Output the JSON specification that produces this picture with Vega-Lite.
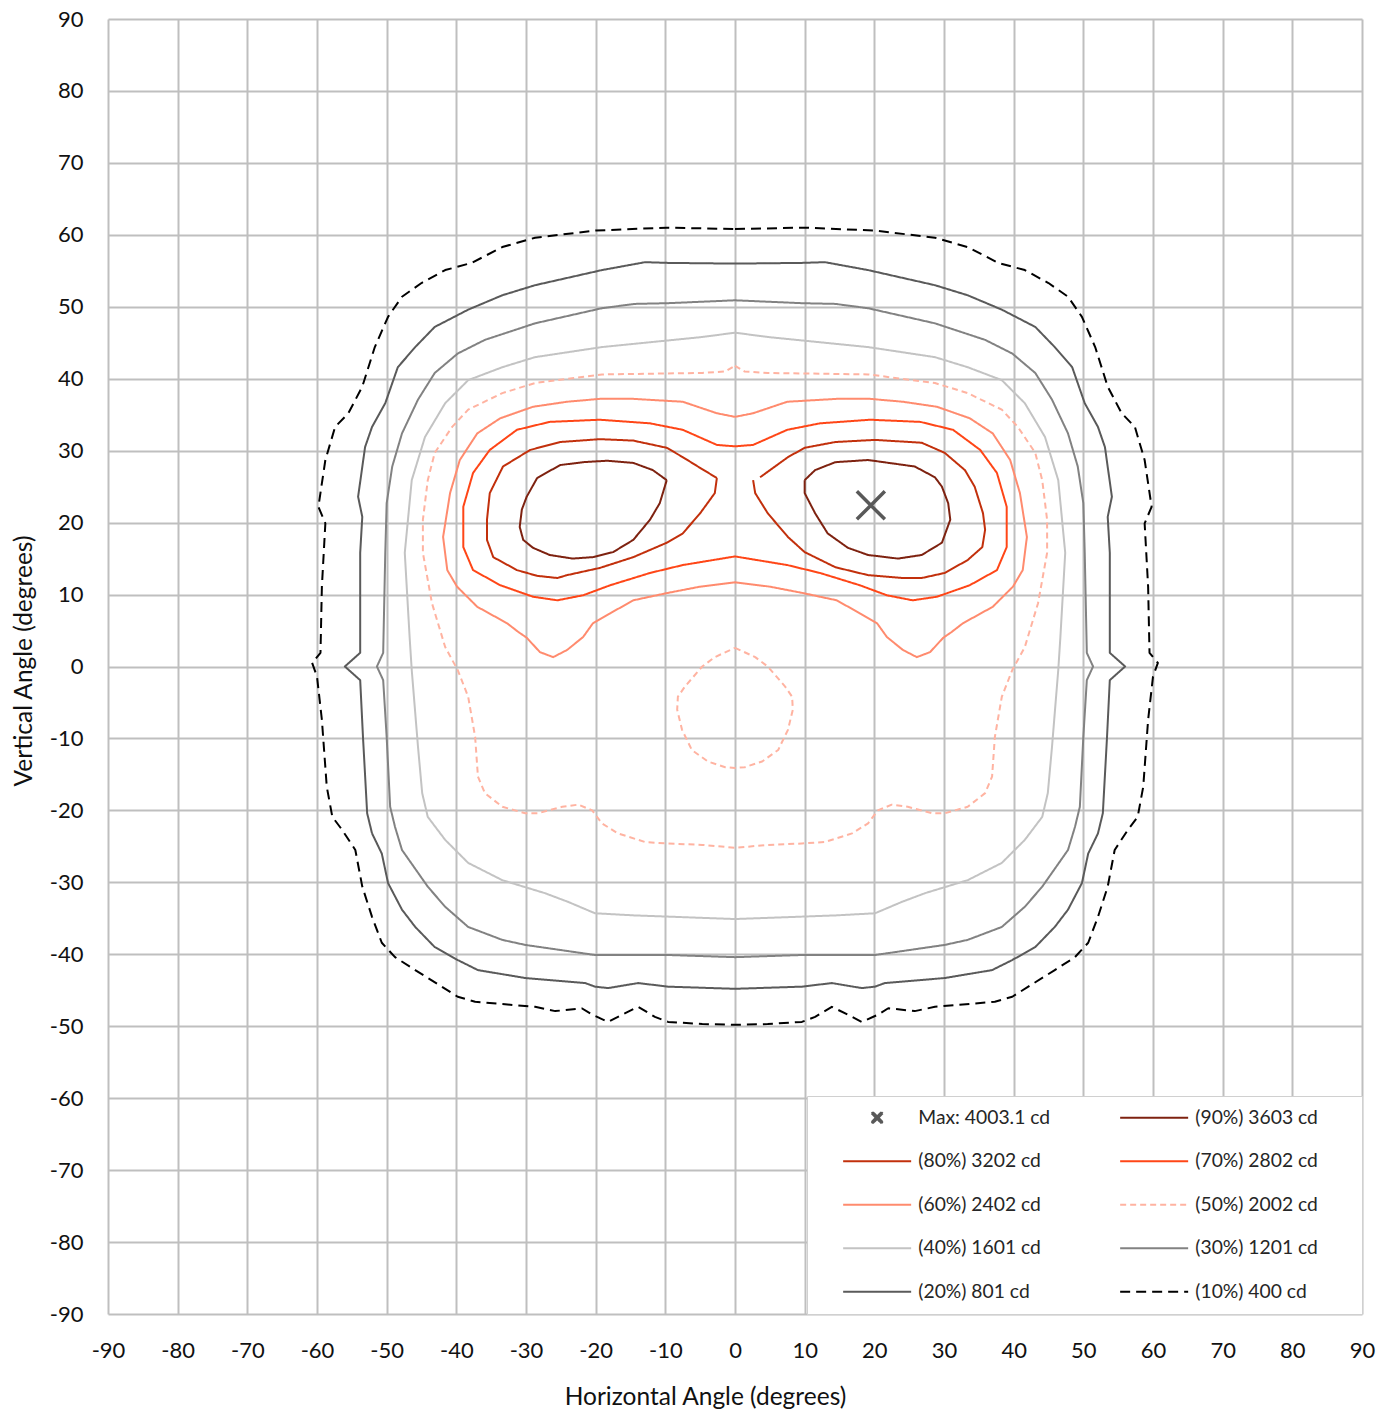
{
"$schema":"https://vega.github.io/schema/vega-lite/v6.json",
"width":1254,"height":1295,"autosize":"none",
"padding":{"left":108,"top":19,"right":32,"bottom":98},
"background":"white",
"config":{"view":{"stroke":null},"font":"Lato",
 "legend":{"orient":"bottom-right","offset":0,"direction":"horizontal","columns":2,"symbolSize":289,"symbolStrokeWidth":2,"symbolOpacity":1,"rowPadding":23.5,"columnPadding":45,"padding":12,"fillColor":"white","strokeColor":"#d0d0d0","labelFont":"Lato","labelFontSize":19.3,"labelColor":"#262626","symbolOffset":48.5,"labelOffset":31.5,"gridAlign":"all","labelLimit":300,"titleOrient":"right","titlePadding":32,"titleFontSize":10}},
"datasets":{
"m":[{"s":"M","x":19.5,"y":22.4}],
"c":[
{"s":"10","g":"10","x":0,"y":60.8},{"s":"10","g":"10","x":9.8,"y":61.0},{"s":"10","g":"10","x":20,"y":60.6},{"s":"10","g":"10","x":28.7,"y":59.6},{"s":"10","g":"10","x":33.4,"y":58.3},{"s":"10","g":"10","x":37.8,"y":56.1},{"s":"10","g":"10","x":41.6,"y":55.1},{"s":"10","g":"10","x":45,"y":53.3},{"s":"10","g":"10","x":47.8,"y":51.4},{"s":"10","g":"10","x":49.8,"y":48.6},{"s":"10","g":"10","x":51.7,"y":44.4},{"s":"10","g":"10","x":53.5,"y":38.9},{"s":"10","g":"10","x":55.5,"y":35.2},{"s":"10","g":"10","x":57.4,"y":33.3},{"s":"10","g":"10","x":58.8,"y":28.7},{"s":"10","g":"10","x":59.8,"y":22.2},{"s":"10","g":"10","x":58.8,"y":19.9},{"s":"10","g":"10","x":59.3,"y":11.1},{"s":"10","g":"10","x":59.5,"y":1.9},{"s":"10","g":"10","x":60.7,"y":0.5},{"s":"10","g":"10","x":60.0,"y":-1.4},{"s":"10","g":"10","x":59.3,"y":-7.4},{"s":"10","g":"10","x":58.6,"y":-16.7},{"s":"10","g":"10","x":57.8,"y":-20.9},{"s":"10","g":"10","x":56.4,"y":-22.7},{"s":"10","g":"10","x":54.5,"y":-25.5},{"s":"10","g":"10","x":53.5,"y":-30.6},{"s":"10","g":"10","x":52.1,"y":-34.8},{"s":"10","g":"10","x":50.7,"y":-38.4},{"s":"10","g":"10","x":48.8,"y":-40.4},{"s":"10","g":"10","x":45.9,"y":-42.2},{"s":"10","g":"10","x":42.1,"y":-44.5},{"s":"10","g":"10","x":39.8,"y":-45.9},{"s":"10","g":"10","x":37.3,"y":-46.6},{"s":"10","g":"10","x":28.7,"y":-47.3},{"s":"10","g":"10","x":25.8,"y":-47.9},{"s":"10","g":"10","x":22.0,"y":-47.5},{"s":"10","g":"10","x":20.5,"y":-48.4},{"s":"10","g":"10","x":18.2,"y":-49.4},{"s":"10","g":"10","x":16.2,"y":-48.4},{"s":"10","g":"10","x":13.9,"y":-47.3},{"s":"10","g":"10","x":11.5,"y":-48.7},{"s":"10","g":"10","x":9.6,"y":-49.4},{"s":"10","g":"10","x":4.7,"y":-49.7},{"s":"10","g":"10","x":0,"y":-49.8},
{"s":"10","g":"10","x":-4.7,"y":-49.7},{"s":"10","g":"10","x":-9.6,"y":-49.4},{"s":"10","g":"10","x":-11.5,"y":-48.7},{"s":"10","g":"10","x":-13.9,"y":-47.3},{"s":"10","g":"10","x":-16.2,"y":-48.4},{"s":"10","g":"10","x":-18.2,"y":-49.4},{"s":"10","g":"10","x":-20.5,"y":-48.4},{"s":"10","g":"10","x":-22.0,"y":-47.5},{"s":"10","g":"10","x":-25.8,"y":-47.9},{"s":"10","g":"10","x":-28.7,"y":-47.3},{"s":"10","g":"10","x":-37.3,"y":-46.6},{"s":"10","g":"10","x":-39.8,"y":-45.9},{"s":"10","g":"10","x":-42.1,"y":-44.5},{"s":"10","g":"10","x":-45.9,"y":-42.2},{"s":"10","g":"10","x":-48.8,"y":-40.4},{"s":"10","g":"10","x":-50.7,"y":-38.4},{"s":"10","g":"10","x":-52.1,"y":-34.8},{"s":"10","g":"10","x":-53.5,"y":-30.6},{"s":"10","g":"10","x":-54.5,"y":-25.5},{"s":"10","g":"10","x":-56.4,"y":-22.7},{"s":"10","g":"10","x":-57.8,"y":-20.9},{"s":"10","g":"10","x":-58.6,"y":-16.7},{"s":"10","g":"10","x":-59.3,"y":-7.4},{"s":"10","g":"10","x":-60.0,"y":-1.4},{"s":"10","g":"10","x":-60.7,"y":0.5},{"s":"10","g":"10","x":-59.5,"y":1.9},{"s":"10","g":"10","x":-59.3,"y":11.1},{"s":"10","g":"10","x":-58.8,"y":19.9},{"s":"10","g":"10","x":-59.8,"y":22.2},{"s":"10","g":"10","x":-58.8,"y":28.7},{"s":"10","g":"10","x":-57.4,"y":33.3},{"s":"10","g":"10","x":-55.5,"y":35.2},{"s":"10","g":"10","x":-53.5,"y":38.9},{"s":"10","g":"10","x":-51.7,"y":44.4},{"s":"10","g":"10","x":-49.8,"y":48.6},{"s":"10","g":"10","x":-47.8,"y":51.4},{"s":"10","g":"10","x":-45,"y":53.3},{"s":"10","g":"10","x":-41.6,"y":55.1},{"s":"10","g":"10","x":-37.8,"y":56.1},{"s":"10","g":"10","x":-33.4,"y":58.3},{"s":"10","g":"10","x":-28.7,"y":59.6},{"s":"10","g":"10","x":-20,"y":60.6},{"s":"10","g":"10","x":-9.8,"y":61.0},{"s":"10","g":"10","x":0,"y":60.8},

{"s":"20","g":"20","x":0,"y":56.0},{"s":"20","g":"20","x":9.6,"y":56.1},{"s":"20","g":"20","x":12.9,"y":56.2},{"s":"20","g":"20","x":19.1,"y":55.1},{"s":"20","g":"20","x":28.7,"y":53.0},{"s":"20","g":"20","x":33.4,"y":51.6},{"s":"20","g":"20","x":38.3,"y":49.6},{"s":"20","g":"20","x":43.1,"y":47.2},{"s":"20","g":"20","x":45.9,"y":44.4},{"s":"20","g":"20","x":48.4,"y":41.6},{"s":"20","g":"20","x":50.2,"y":36.6},{"s":"20","g":"20","x":52.1,"y":33.3},{"s":"20","g":"20","x":53.1,"y":30.5},{"s":"20","g":"20","x":54.1,"y":23.6},{"s":"20","g":"20","x":53.5,"y":20.8},{"s":"20","g":"20","x":53.8,"y":15.8},{"s":"20","g":"20","x":53.8,"y":1.9},{"s":"20","g":"20","x":56.0,"y":0},{"s":"20","g":"20","x":53.8,"y":-1.9},{"s":"20","g":"20","x":53.4,"y":-9.8},{"s":"20","g":"20","x":52.8,"y":-20.4},{"s":"20","g":"20","x":52.1,"y":-23.2},{"s":"20","g":"20","x":50.7,"y":-26.0},{"s":"20","g":"20","x":49.8,"y":-30.1},{"s":"20","g":"20","x":47.8,"y":-33.8},{"s":"20","g":"20","x":45.9,"y":-36.2},{"s":"20","g":"20","x":43.1,"y":-39.0},{"s":"20","g":"20","x":39.8,"y":-40.8},{"s":"20","g":"20","x":36.9,"y":-42.2},{"s":"20","g":"20","x":30.1,"y":-43.3},{"s":"20","g":"20","x":21.5,"y":-44.0},{"s":"20","g":"20","x":20.1,"y":-44.5},{"s":"20","g":"20","x":18.2,"y":-44.7},{"s":"20","g":"20","x":13.9,"y":-44.0},{"s":"20","g":"20","x":9.6,"y":-44.5},{"s":"20","g":"20","x":0,"y":-44.8},
{"s":"20","g":"20","x":-9.6,"y":-44.5},{"s":"20","g":"20","x":-13.9,"y":-44.0},{"s":"20","g":"20","x":-18.2,"y":-44.7},{"s":"20","g":"20","x":-20.1,"y":-44.5},{"s":"20","g":"20","x":-21.5,"y":-44.0},{"s":"20","g":"20","x":-30.1,"y":-43.3},{"s":"20","g":"20","x":-36.9,"y":-42.2},{"s":"20","g":"20","x":-39.8,"y":-40.8},{"s":"20","g":"20","x":-43.1,"y":-39.0},{"s":"20","g":"20","x":-45.9,"y":-36.2},{"s":"20","g":"20","x":-47.8,"y":-33.8},{"s":"20","g":"20","x":-49.8,"y":-30.1},{"s":"20","g":"20","x":-50.7,"y":-26.0},{"s":"20","g":"20","x":-52.1,"y":-23.2},{"s":"20","g":"20","x":-52.8,"y":-20.4},{"s":"20","g":"20","x":-53.4,"y":-9.8},{"s":"20","g":"20","x":-53.8,"y":-1.9},{"s":"20","g":"20","x":-56.0,"y":0},{"s":"20","g":"20","x":-53.8,"y":1.9},{"s":"20","g":"20","x":-53.8,"y":15.8},{"s":"20","g":"20","x":-53.5,"y":20.8},{"s":"20","g":"20","x":-54.1,"y":23.6},{"s":"20","g":"20","x":-53.1,"y":30.5},{"s":"20","g":"20","x":-52.1,"y":33.3},{"s":"20","g":"20","x":-50.2,"y":36.6},{"s":"20","g":"20","x":-48.4,"y":41.6},{"s":"20","g":"20","x":-45.9,"y":44.4},{"s":"20","g":"20","x":-43.1,"y":47.2},{"s":"20","g":"20","x":-38.3,"y":49.6},{"s":"20","g":"20","x":-33.4,"y":51.6},{"s":"20","g":"20","x":-28.7,"y":53.0},{"s":"20","g":"20","x":-19.1,"y":55.1},{"s":"20","g":"20","x":-12.9,"y":56.2},{"s":"20","g":"20","x":-9.6,"y":56.1},{"s":"20","g":"20","x":0,"y":56.0},

{"s":"30","g":"30","x":0,"y":50.9},{"s":"30","g":"30","x":9.6,"y":50.5},{"s":"30","g":"30","x":14.4,"y":50.4},{"s":"30","g":"30","x":19.1,"y":49.8},{"s":"30","g":"30","x":28.7,"y":47.7},{"s":"30","g":"30","x":35.9,"y":45.4},{"s":"30","g":"30","x":39.8,"y":43.5},{"s":"30","g":"30","x":43.1,"y":40.8},{"s":"30","g":"30","x":45.5,"y":37.1},{"s":"30","g":"30","x":47.8,"y":32.4},{"s":"30","g":"30","x":49.2,"y":27.8},{"s":"30","g":"30","x":50.0,"y":22.7},{"s":"30","g":"30","x":50.2,"y":15.8},{"s":"30","g":"30","x":50.5,"y":1.9},{"s":"30","g":"30","x":51.4,"y":0},{"s":"30","g":"30","x":50.5,"y":-1.9},{"s":"30","g":"30","x":50.0,"y":-9.8},{"s":"30","g":"30","x":49.5,"y":-19.5},{"s":"30","g":"30","x":48.8,"y":-22.3},{"s":"30","g":"30","x":47.8,"y":-25.5},{"s":"30","g":"30","x":44.1,"y":-30.6},{"s":"30","g":"30","x":41.6,"y":-33.4},{"s":"30","g":"30","x":38.3,"y":-36.2},{"s":"30","g":"30","x":33.4,"y":-38.0},{"s":"30","g":"30","x":30.1,"y":-38.7},{"s":"30","g":"30","x":20.1,"y":-40.1},{"s":"30","g":"30","x":9.6,"y":-40.1},{"s":"30","g":"30","x":0,"y":-40.4},
{"s":"30","g":"30","x":-9.6,"y":-40.1},{"s":"30","g":"30","x":-20.1,"y":-40.1},{"s":"30","g":"30","x":-30.1,"y":-38.7},{"s":"30","g":"30","x":-33.4,"y":-38.0},{"s":"30","g":"30","x":-38.3,"y":-36.2},{"s":"30","g":"30","x":-41.6,"y":-33.4},{"s":"30","g":"30","x":-44.1,"y":-30.6},{"s":"30","g":"30","x":-47.8,"y":-25.5},{"s":"30","g":"30","x":-48.8,"y":-22.3},{"s":"30","g":"30","x":-49.5,"y":-19.5},{"s":"30","g":"30","x":-50.0,"y":-9.8},{"s":"30","g":"30","x":-50.5,"y":-1.9},{"s":"30","g":"30","x":-51.4,"y":0},{"s":"30","g":"30","x":-50.5,"y":1.9},{"s":"30","g":"30","x":-50.2,"y":15.8},{"s":"30","g":"30","x":-50.0,"y":22.7},{"s":"30","g":"30","x":-49.2,"y":27.8},{"s":"30","g":"30","x":-47.8,"y":32.4},{"s":"30","g":"30","x":-45.5,"y":37.1},{"s":"30","g":"30","x":-43.1,"y":40.8},{"s":"30","g":"30","x":-39.8,"y":43.5},{"s":"30","g":"30","x":-35.9,"y":45.4},{"s":"30","g":"30","x":-28.7,"y":47.7},{"s":"30","g":"30","x":-19.1,"y":49.8},{"s":"30","g":"30","x":-14.4,"y":50.4},{"s":"30","g":"30","x":-9.6,"y":50.5},{"s":"30","g":"30","x":0,"y":50.9},

{"s":"40","g":"40","x":0,"y":46.4},{"s":"40","g":"40","x":4.7,"y":45.8},{"s":"40","g":"40","x":19.1,"y":44.4},{"s":"40","g":"40","x":28.7,"y":43.0},{"s":"40","g":"40","x":33.4,"y":41.6},{"s":"40","g":"40","x":38.3,"y":39.8},{"s":"40","g":"40","x":41.6,"y":36.6},{"s":"40","g":"40","x":44.5,"y":31.9},{"s":"40","g":"40","x":46.4,"y":25.9},{"s":"40","g":"40","x":47.4,"y":15.8},{"s":"40","g":"40","x":46.7,"y":4.0},{"s":"40","g":"40","x":46.4,"y":-0.5},{"s":"40","g":"40","x":45.5,"y":-11.2},{"s":"40","g":"40","x":44.9,"y":-17.6},{"s":"40","g":"40","x":44.1,"y":-20.9},{"s":"40","g":"40","x":41.6,"y":-24.1},{"s":"40","g":"40","x":38.3,"y":-27.3},{"s":"40","g":"40","x":33.4,"y":-29.7},{"s":"40","g":"40","x":27.3,"y":-31.5},{"s":"40","g":"40","x":24.0,"y":-32.7},{"s":"40","g":"40","x":20.1,"y":-34.3},{"s":"40","g":"40","x":14.4,"y":-34.6},{"s":"40","g":"40","x":0,"y":-35.1},
{"s":"40","g":"40","x":-14.4,"y":-34.6},{"s":"40","g":"40","x":-20.1,"y":-34.3},{"s":"40","g":"40","x":-24.0,"y":-32.7},{"s":"40","g":"40","x":-27.3,"y":-31.5},{"s":"40","g":"40","x":-33.4,"y":-29.7},{"s":"40","g":"40","x":-38.3,"y":-27.3},{"s":"40","g":"40","x":-41.6,"y":-24.1},{"s":"40","g":"40","x":-44.1,"y":-20.9},{"s":"40","g":"40","x":-44.9,"y":-17.6},{"s":"40","g":"40","x":-45.5,"y":-11.2},{"s":"40","g":"40","x":-46.4,"y":-0.5},{"s":"40","g":"40","x":-46.7,"y":4.0},{"s":"40","g":"40","x":-47.4,"y":15.8},{"s":"40","g":"40","x":-46.4,"y":25.9},{"s":"40","g":"40","x":-44.5,"y":31.9},{"s":"40","g":"40","x":-41.6,"y":36.6},{"s":"40","g":"40","x":-38.3,"y":39.8},{"s":"40","g":"40","x":-33.4,"y":41.6},{"s":"40","g":"40","x":-28.7,"y":43.0},{"s":"40","g":"40","x":-19.1,"y":44.4},{"s":"40","g":"40","x":-4.7,"y":45.8},{"s":"40","g":"40","x":0,"y":46.4},

{"s":"50","g":"50a","x":0,"y":41.8},{"s":"50","g":"50a","x":1.4,"y":41.0},{"s":"50","g":"50a","x":4.7,"y":40.8},{"s":"50","g":"50a","x":19.1,"y":40.6},{"s":"50","g":"50a","x":28.7,"y":39.4},{"s":"50","g":"50a","x":33.4,"y":38.0},{"s":"50","g":"50a","x":38.3,"y":35.7},{"s":"50","g":"50a","x":40.6,"y":33.3},{"s":"50","g":"50a","x":43.1,"y":29.7},{"s":"50","g":"50a","x":44.1,"y":25.9},{"s":"50","g":"50a","x":44.8,"y":20.4},{"s":"50","g":"50a","x":44.8,"y":15.8},{"s":"50","g":"50a","x":43.5,"y":8.8},{"s":"50","g":"50a","x":41.6,"y":2.7},{"s":"50","g":"50a","x":39.8,"y":-0.5},{"s":"50","g":"50a","x":38.3,"y":-4.2},{"s":"50","g":"50a","x":37.3,"y":-9.8},{"s":"50","g":"50a","x":36.9,"y":-15.3},{"s":"50","g":"50a","x":35.9,"y":-17.6},{"s":"50","g":"50a","x":33.4,"y":-19.5},{"s":"50","g":"50a","x":30.1,"y":-20.4},{"s":"50","g":"50a","x":28.3,"y":-20.4},{"s":"50","g":"50a","x":24.8,"y":-19.5},{"s":"50","g":"50a","x":22.5,"y":-19.2},{"s":"50","g":"50a","x":20.5,"y":-20.0},{"s":"50","g":"50a","x":19.1,"y":-21.8},{"s":"50","g":"50a","x":16.8,"y":-23.2},{"s":"50","g":"50a","x":12.9,"y":-24.4},{"s":"50","g":"50a","x":9.6,"y":-24.6},{"s":"50","g":"50a","x":4.7,"y":-24.8},{"s":"50","g":"50a","x":0,"y":-25.2},
{"s":"50","g":"50a","x":-4.7,"y":-24.8},{"s":"50","g":"50a","x":-9.6,"y":-24.6},{"s":"50","g":"50a","x":-12.9,"y":-24.4},{"s":"50","g":"50a","x":-16.8,"y":-23.2},{"s":"50","g":"50a","x":-19.1,"y":-21.8},{"s":"50","g":"50a","x":-20.5,"y":-20.0},{"s":"50","g":"50a","x":-22.5,"y":-19.2},{"s":"50","g":"50a","x":-24.8,"y":-19.5},{"s":"50","g":"50a","x":-28.3,"y":-20.4},{"s":"50","g":"50a","x":-30.1,"y":-20.4},{"s":"50","g":"50a","x":-33.4,"y":-19.5},{"s":"50","g":"50a","x":-35.9,"y":-17.6},{"s":"50","g":"50a","x":-36.9,"y":-15.3},{"s":"50","g":"50a","x":-37.3,"y":-9.8},{"s":"50","g":"50a","x":-38.3,"y":-4.2},{"s":"50","g":"50a","x":-39.8,"y":-0.5},{"s":"50","g":"50a","x":-41.6,"y":2.7},{"s":"50","g":"50a","x":-43.5,"y":8.8},{"s":"50","g":"50a","x":-44.8,"y":15.8},{"s":"50","g":"50a","x":-44.8,"y":20.4},{"s":"50","g":"50a","x":-44.1,"y":25.9},{"s":"50","g":"50a","x":-43.1,"y":29.7},{"s":"50","g":"50a","x":-40.6,"y":33.3},{"s":"50","g":"50a","x":-38.3,"y":35.7},{"s":"50","g":"50a","x":-33.4,"y":38.0},{"s":"50","g":"50a","x":-28.7,"y":39.4},{"s":"50","g":"50a","x":-19.1,"y":40.6},{"s":"50","g":"50a","x":-4.7,"y":40.8},{"s":"50","g":"50a","x":-1.4,"y":41.0},{"s":"50","g":"50a","x":0,"y":41.8},

{"s":"50","g":"50b","x":0,"y":2.6},{"s":"50","g":"50b","x":2.9,"y":1.3},{"s":"50","g":"50b","x":4.7,"y":0},{"s":"50","g":"50b","x":7.2,"y":-2.8},{"s":"50","g":"50b","x":8.2,"y":-4.2},{"s":"50","g":"50b","x":8.3,"y":-6.0},{"s":"50","g":"50b","x":7.6,"y":-8.8},{"s":"50","g":"50b","x":6.2,"y":-11.6},{"s":"50","g":"50b","x":3.9,"y":-13.2},{"s":"50","g":"50b","x":1.4,"y":-14.0},{"s":"50","g":"50b","x":0,"y":-14.1},{"s":"50","g":"50b","x":-1.4,"y":-14.0},{"s":"50","g":"50b","x":-3.9,"y":-13.2},{"s":"50","g":"50b","x":-6.2,"y":-11.6},{"s":"50","g":"50b","x":-7.6,"y":-8.8},{"s":"50","g":"50b","x":-8.3,"y":-6.0},{"s":"50","g":"50b","x":-8.2,"y":-4.2},{"s":"50","g":"50b","x":-7.2,"y":-2.8},{"s":"50","g":"50b","x":-4.7,"y":0},{"s":"50","g":"50b","x":-2.9,"y":1.3},{"s":"50","g":"50b","x":0,"y":2.6},

{"s":"60","g":"60","x":0,"y":34.7},{"s":"60","g":"60","x":-2.6,"y":35.2},{"s":"60","g":"60","x":-7.5,"y":36.8},{"s":"60","g":"60","x":-14.6,"y":37.2},{"s":"60","g":"60","x":-19.4,"y":37.2},{"s":"60","g":"60","x":-24.1,"y":36.8},{"s":"60","g":"60","x":-29.0,"y":36.1},{"s":"60","g":"60","x":-33.7,"y":34.5},{"s":"60","g":"60","x":-37.0,"y":32.4},{"s":"60","g":"60","x":-39.5,"y":28.7},{"s":"60","g":"60","x":-40.9,"y":24.1},{"s":"60","g":"60","x":-41.9,"y":18.0},{"s":"60","g":"60","x":-41.3,"y":13.4},{"s":"60","g":"60","x":-39.9,"y":11.1},{"s":"60","g":"60","x":-37.0,"y":8.3},{"s":"60","g":"60","x":-32.7,"y":6.0},{"s":"60","g":"60","x":-31.1,"y":4.8},{"s":"60","g":"60","x":-29.9,"y":4.0},{"s":"60","g":"60","x":-28.0,"y":2.0},{"s":"60","g":"60","x":-26.1,"y":1.3},{"s":"60","g":"60","x":-24.1,"y":2.3},{"s":"60","g":"60","x":-21.8,"y":4.1},{"s":"60","g":"60","x":-20.4,"y":6.0},{"s":"60","g":"60","x":-17.9,"y":7.4},{"s":"60","g":"60","x":-14.6,"y":9.2},{"s":"60","g":"60","x":-9.8,"y":10.2},{"s":"60","g":"60","x":-5.0,"y":11.1},{"s":"60","g":"60","x":0,"y":11.7},
{"s":"60","g":"60","x":5.0,"y":11.1},{"s":"60","g":"60","x":9.8,"y":10.2},{"s":"60","g":"60","x":14.6,"y":9.2},{"s":"60","g":"60","x":17.9,"y":7.4},{"s":"60","g":"60","x":20.4,"y":6.0},{"s":"60","g":"60","x":21.8,"y":4.1},{"s":"60","g":"60","x":24.1,"y":2.3},{"s":"60","g":"60","x":26.1,"y":1.3},{"s":"60","g":"60","x":28.0,"y":2.0},{"s":"60","g":"60","x":29.9,"y":4.0},{"s":"60","g":"60","x":31.1,"y":4.8},{"s":"60","g":"60","x":32.7,"y":6.0},{"s":"60","g":"60","x":37.0,"y":8.3},{"s":"60","g":"60","x":39.9,"y":11.1},{"s":"60","g":"60","x":41.3,"y":13.4},{"s":"60","g":"60","x":41.9,"y":18.0},{"s":"60","g":"60","x":40.9,"y":24.1},{"s":"60","g":"60","x":39.5,"y":28.7},{"s":"60","g":"60","x":37.0,"y":32.4},{"s":"60","g":"60","x":33.7,"y":34.5},{"s":"60","g":"60","x":29.0,"y":36.1},{"s":"60","g":"60","x":24.1,"y":36.8},{"s":"60","g":"60","x":19.4,"y":37.2},{"s":"60","g":"60","x":14.6,"y":37.2},{"s":"60","g":"60","x":7.5,"y":36.8},{"s":"60","g":"60","x":2.6,"y":35.2},{"s":"60","g":"60","x":0,"y":34.7},

{"s":"70","g":"70","x":0,"y":30.6},{"s":"70","g":"70","x":-2.6,"y":30.8},{"s":"70","g":"70","x":-7.5,"y":32.9},{"s":"70","g":"70","x":-12.2,"y":33.8},{"s":"70","g":"70","x":-19.4,"y":34.3},{"s":"70","g":"70","x":-26.6,"y":34.0},{"s":"70","g":"70","x":-31.3,"y":32.9},{"s":"70","g":"70","x":-35.2,"y":30.1},{"s":"70","g":"70","x":-37.6,"y":26.9},{"s":"70","g":"70","x":-39.0,"y":22.2},{"s":"70","g":"70","x":-39.0,"y":16.6},{"s":"70","g":"70","x":-37.6,"y":13.4},{"s":"70","g":"70","x":-33.7,"y":11.3},{"s":"70","g":"70","x":-29.0,"y":9.7},{"s":"70","g":"70","x":-25.5,"y":9.2},{"s":"70","g":"70","x":-21.8,"y":9.9},{"s":"70","g":"70","x":-17.9,"y":11.3},{"s":"70","g":"70","x":-12.2,"y":13.0},{"s":"70","g":"70","x":-7.5,"y":14.1},{"s":"70","g":"70","x":0,"y":15.3},
{"s":"70","g":"70","x":7.5,"y":14.1},{"s":"70","g":"70","x":12.2,"y":13.0},{"s":"70","g":"70","x":17.9,"y":11.3},{"s":"70","g":"70","x":21.8,"y":9.9},{"s":"70","g":"70","x":25.5,"y":9.2},{"s":"70","g":"70","x":29.0,"y":9.7},{"s":"70","g":"70","x":33.7,"y":11.3},{"s":"70","g":"70","x":37.6,"y":13.4},{"s":"70","g":"70","x":39.0,"y":16.6},{"s":"70","g":"70","x":39.0,"y":22.2},{"s":"70","g":"70","x":37.6,"y":26.9},{"s":"70","g":"70","x":35.2,"y":30.1},{"s":"70","g":"70","x":31.3,"y":32.9},{"s":"70","g":"70","x":26.6,"y":34.0},{"s":"70","g":"70","x":19.4,"y":34.3},{"s":"70","g":"70","x":12.2,"y":33.8},{"s":"70","g":"70","x":7.5,"y":32.9},{"s":"70","g":"70","x":2.6,"y":30.8},{"s":"70","g":"70","x":0,"y":30.6},

{"s":"80","g":"80L","x":-2.6,"y":26.2},{"s":"80","g":"80L","x":-2.9,"y":24.1},{"s":"80","g":"80L","x":-5.0,"y":21.3},{"s":"80","g":"80L","x":-7.5,"y":18.5},{"s":"80","g":"80L","x":-9.8,"y":17.2},{"s":"80","g":"80L","x":-14.6,"y":15.2},{"s":"80","g":"80L","x":-19.4,"y":13.7},{"s":"80","g":"80L","x":-24.1,"y":12.7},{"s":"80","g":"80L","x":-25.5,"y":12.3},{"s":"80","g":"80L","x":-28.4,"y":12.6},{"s":"80","g":"80L","x":-31.3,"y":13.4},{"s":"80","g":"80L","x":-34.7,"y":15.2},{"s":"80","g":"80L","x":-35.6,"y":17.6},{"s":"80","g":"80L","x":-35.6,"y":20.4},{"s":"80","g":"80L","x":-35.2,"y":24.1},{"s":"80","g":"80L","x":-33.3,"y":27.8},{"s":"80","g":"80L","x":-29.4,"y":30.1},{"s":"80","g":"80L","x":-25.1,"y":31.2},{"s":"80","g":"80L","x":-19.4,"y":31.6},{"s":"80","g":"80L","x":-14.6,"y":31.4},{"s":"80","g":"80L","x":-9.8,"y":30.4},{"s":"80","g":"80L","x":-7.5,"y":29.1},{"s":"80","g":"80L","x":-5.0,"y":27.6},{"s":"80","g":"80L","x":-2.6,"y":26.2},

{"s":"80","g":"80R","x":2.6,"y":25.9},{"s":"80","g":"80R","x":2.9,"y":24.1},{"s":"80","g":"80R","x":4.7,"y":21.3},{"s":"80","g":"80R","x":7.6,"y":18.0},{"s":"80","g":"80R","x":10.0,"y":15.9},{"s":"80","g":"80R","x":14.4,"y":13.8},{"s":"80","g":"80R","x":19.1,"y":12.7},{"s":"80","g":"80R","x":24.0,"y":12.3},{"s":"80","g":"80R","x":26.8,"y":12.3},{"s":"80","g":"80R","x":30.1,"y":13.0},{"s":"80","g":"80R","x":33.4,"y":14.8},{"s":"80","g":"80R","x":35.5,"y":16.6},{"s":"80","g":"80R","x":35.9,"y":19.0},{"s":"80","g":"80R","x":35.6,"y":21.3},{"s":"80","g":"80R","x":34.4,"y":25.0},{"s":"80","g":"80R","x":33.0,"y":27.3},{"s":"80","g":"80R","x":30.1,"y":29.7},{"s":"80","g":"80R","x":26.8,"y":31.1},{"s":"80","g":"80R","x":20.1,"y":31.5},{"s":"80","g":"80R","x":14.4,"y":31.2},{"s":"80","g":"80R","x":10.0,"y":30.4},{"s":"80","g":"80R","x":7.6,"y":29.1},{"s":"80","g":"80R","x":3.6,"y":26.3},

{"s":"90","g":"90L","x":-9.8,"y":25.9},{"s":"90","g":"90L","x":-11.8,"y":27.3},{"s":"90","g":"90L","x":-14.6,"y":28.3},{"s":"90","g":"90L","x":-18.4,"y":28.6},{"s":"90","g":"90L","x":-21.8,"y":28.4},{"s":"90","g":"90L","x":-25.1,"y":28.0},{"s":"90","g":"90L","x":-28.4,"y":26.2},{"s":"90","g":"90L","x":-29.9,"y":23.6},{"s":"90","g":"90L","x":-30.6,"y":21.8},{"s":"90","g":"90L","x":-30.9,"y":19.4},{"s":"90","g":"90L","x":-30.4,"y":17.6},{"s":"90","g":"90L","x":-29.0,"y":16.5},{"s":"90","g":"90L","x":-26.6,"y":15.5},{"s":"90","g":"90L","x":-23.3,"y":15.0},{"s":"90","g":"90L","x":-20.4,"y":15.2},{"s":"90","g":"90L","x":-17.5,"y":15.9},{"s":"90","g":"90L","x":-14.6,"y":17.6},{"s":"90","g":"90L","x":-12.2,"y":20.4},{"s":"90","g":"90L","x":-10.8,"y":22.7},{"s":"90","g":"90L","x":-9.8,"y":25.9},

{"s":"90","g":"90R","x":10.0,"y":25.9},{"s":"90","g":"90R","x":10.0,"y":24.1},{"s":"90","g":"90R","x":11.5,"y":21.3},{"s":"90","g":"90R","x":13.3,"y":18.5},{"s":"90","g":"90R","x":16.2,"y":16.5},{"s":"90","g":"90R","x":19.1,"y":15.5},{"s":"90","g":"90R","x":23.4,"y":15.0},{"s":"90","g":"90R","x":26.8,"y":15.5},{"s":"90","g":"90R","x":29.7,"y":17.2},{"s":"90","g":"90R","x":30.9,"y":20.4},{"s":"90","g":"90R","x":30.6,"y":22.7},{"s":"90","g":"90R","x":29.7,"y":25.0},{"s":"90","g":"90R","x":28.7,"y":26.3},{"s":"90","g":"90R","x":25.8,"y":27.8},{"s":"90","g":"90R","x":19.1,"y":28.7},{"s":"90","g":"90R","x":14.4,"y":28.4},{"s":"90","g":"90R","x":11.5,"y":27.3},{"s":"90","g":"90R","x":10.0,"y":25.9}
]},
"layer":[
{"data":{"name":"c"},
 "mark":{"type":"line","strokeWidth":2,"strokeJoin":"round"},
 "encoding":{
  "x":{"field":"x","type":"quantitative","scale":{"domain":[-90,90],"nice":false,"zero":false},
   "axis":{"values":[-90,-80,-70,-60,-50,-40,-30,-20,-10,0,10,20,30,40,50,60,70,80,90],"labelExpr":"'' + datum.value","title":"Horizontal Angle (degrees)","grid":true,"gridColor":"#bfbfbf","gridWidth":2,"domain":false,"ticks":false,"tickSize":0,"labelPadding":36,"labelBaseline":"middle","labelFont":"Lato","labelFontSize":22,"labelColor":"#111111","labelFlush":false,"labelOverlap":false,"titleFont":"Lato","titleFontSize":24.5,"titleFontWeight":"normal","titleColor":"#111111","titleX":597,"titleY":83,"titleBaseline":"middle"}},
  "y":{"field":"y","type":"quantitative","scale":{"domain":[-90,90],"nice":false,"zero":false},
   "axis":{"values":[-90,-80,-70,-60,-50,-40,-30,-20,-10,0,10,20,30,40,50,60,70,80,90],"labelExpr":"'' + datum.value","title":"Vertical Angle (degrees)","grid":true,"gridColor":"#bfbfbf","gridWidth":2,"domain":false,"ticks":false,"tickSize":0,"labelPadding":25,"labelBaseline":"middle","labelFont":"Lato","labelFontSize":22,"labelColor":"#111111","labelFlush":false,"labelOverlap":false,"titleFont":"Lato","titleFontSize":24.5,"titleFontWeight":"normal","titleColor":"#111111","titleX":-84,"titleY":641.5,"titleBaseline":"middle","titleAlign":"center"}},
  "color":{"field":"s","type":"nominal",
   "scale":{"domain":["M","90","80","70","60","50","40","30","20","10"],"range":["#595959","#7E2210","#C2300C","#FF4617","#FF8B6E","#FFB3A1","#C3C3C3","#828282","#5A5A5A","#000000"]},
   "legend":{"title":"\u00a0","labelExpr":"{'M':'Max: 4003.1 cd','90':'(90%) 3603 cd','80':'(80%) 3202 cd','70':'(70%) 2802 cd','60':'(60%) 2402 cd','50':'(50%) 2002 cd','40':'(40%) 1601 cd','30':'(30%) 1201 cd','20':'(20%) 801 cd','10':'(10%) 400 cd'}[datum.label]"}},
  "strokeDash":{"field":"s","type":"nominal",
   "scale":{"domain":["M","90","80","70","60","50","40","30","20","10"],"range":[[1,0],[1,0],[1,0],[1,0],[1,0],[6,4],[1,0],[1,0],[1,0],[10,6]]},
   "legend":{"title":"\u00a0","labelExpr":"{'M':'Max: 4003.1 cd','90':'(90%) 3603 cd','80':'(80%) 3202 cd','70':'(70%) 2802 cd','60':'(60%) 2402 cd','50':'(50%) 2002 cd','40':'(40%) 1601 cd','30':'(30%) 1201 cd','20':'(20%) 801 cd','10':'(10%) 400 cd'}[datum.label]"}},
  "detail":{"field":"g"},
  "order":{"value":null}
 }},
{"data":{"name":"m"},
 "mark":{"type":"point","shape":"M-1,-1L1,1M1,-1L-1,1","size":784,"stroke":"#595959","strokeWidth":3.5,"filled":false,"opacity":1},
 "encoding":{"x":{"field":"x","type":"quantitative"},"y":{"field":"y","type":"quantitative"}}},
{"data":{"name":"m"},
 "mark":{"type":"point","size":289,"strokeWidth":2,"filled":false,"opacity":0},
 "encoding":{"x":{"field":"x","type":"quantitative"},"y":{"field":"y","type":"quantitative"},
  "color":{"field":"s","type":"nominal",
   "scale":{"domain":["M","90","80","70","60","50","40","30","20","10"],"range":["#595959","#7E2210","#C2300C","#FF4617","#FF8B6E","#FFB3A1","#C3C3C3","#828282","#5A5A5A","#000000"]},
   "legend":{"title":"\u00a0","labelExpr":"{'M':'Max: 4003.1 cd','90':'(90%) 3603 cd','80':'(80%) 3202 cd','70':'(70%) 2802 cd','60':'(60%) 2402 cd','50':'(50%) 2002 cd','40':'(40%) 1601 cd','30':'(30%) 1201 cd','20':'(20%) 801 cd','10':'(10%) 400 cd'}[datum.label]"}},
  "shape":{"field":"s","type":"nominal",
   "scale":{"domain":["M","90","80","70","60","50","40","30","20","10"],"range":["M-0.65,-0.65L0.65,0.65M-0.5,-0.65L0.65,0.5M-0.65,-0.5L0.5,0.65M0.65,-0.65L-0.65,0.65M0.5,-0.65L-0.65,0.5M0.65,-0.5L-0.5,0.65","M-4,0H4","M-4,0H4","M-4,0H4","M-4,0H4","M-4,0H4","M-4,0H4","M-4,0H4","M-4,0H4","M-4,0H4"]},
   "legend":{"title":"\u00a0","labelExpr":"{'M':'Max: 4003.1 cd','90':'(90%) 3603 cd','80':'(80%) 3202 cd','70':'(70%) 2802 cd','60':'(60%) 2402 cd','50':'(50%) 2002 cd','40':'(40%) 1601 cd','30':'(30%) 1201 cd','20':'(20%) 801 cd','10':'(10%) 400 cd'}[datum.label]"}}
 }}
]
}
